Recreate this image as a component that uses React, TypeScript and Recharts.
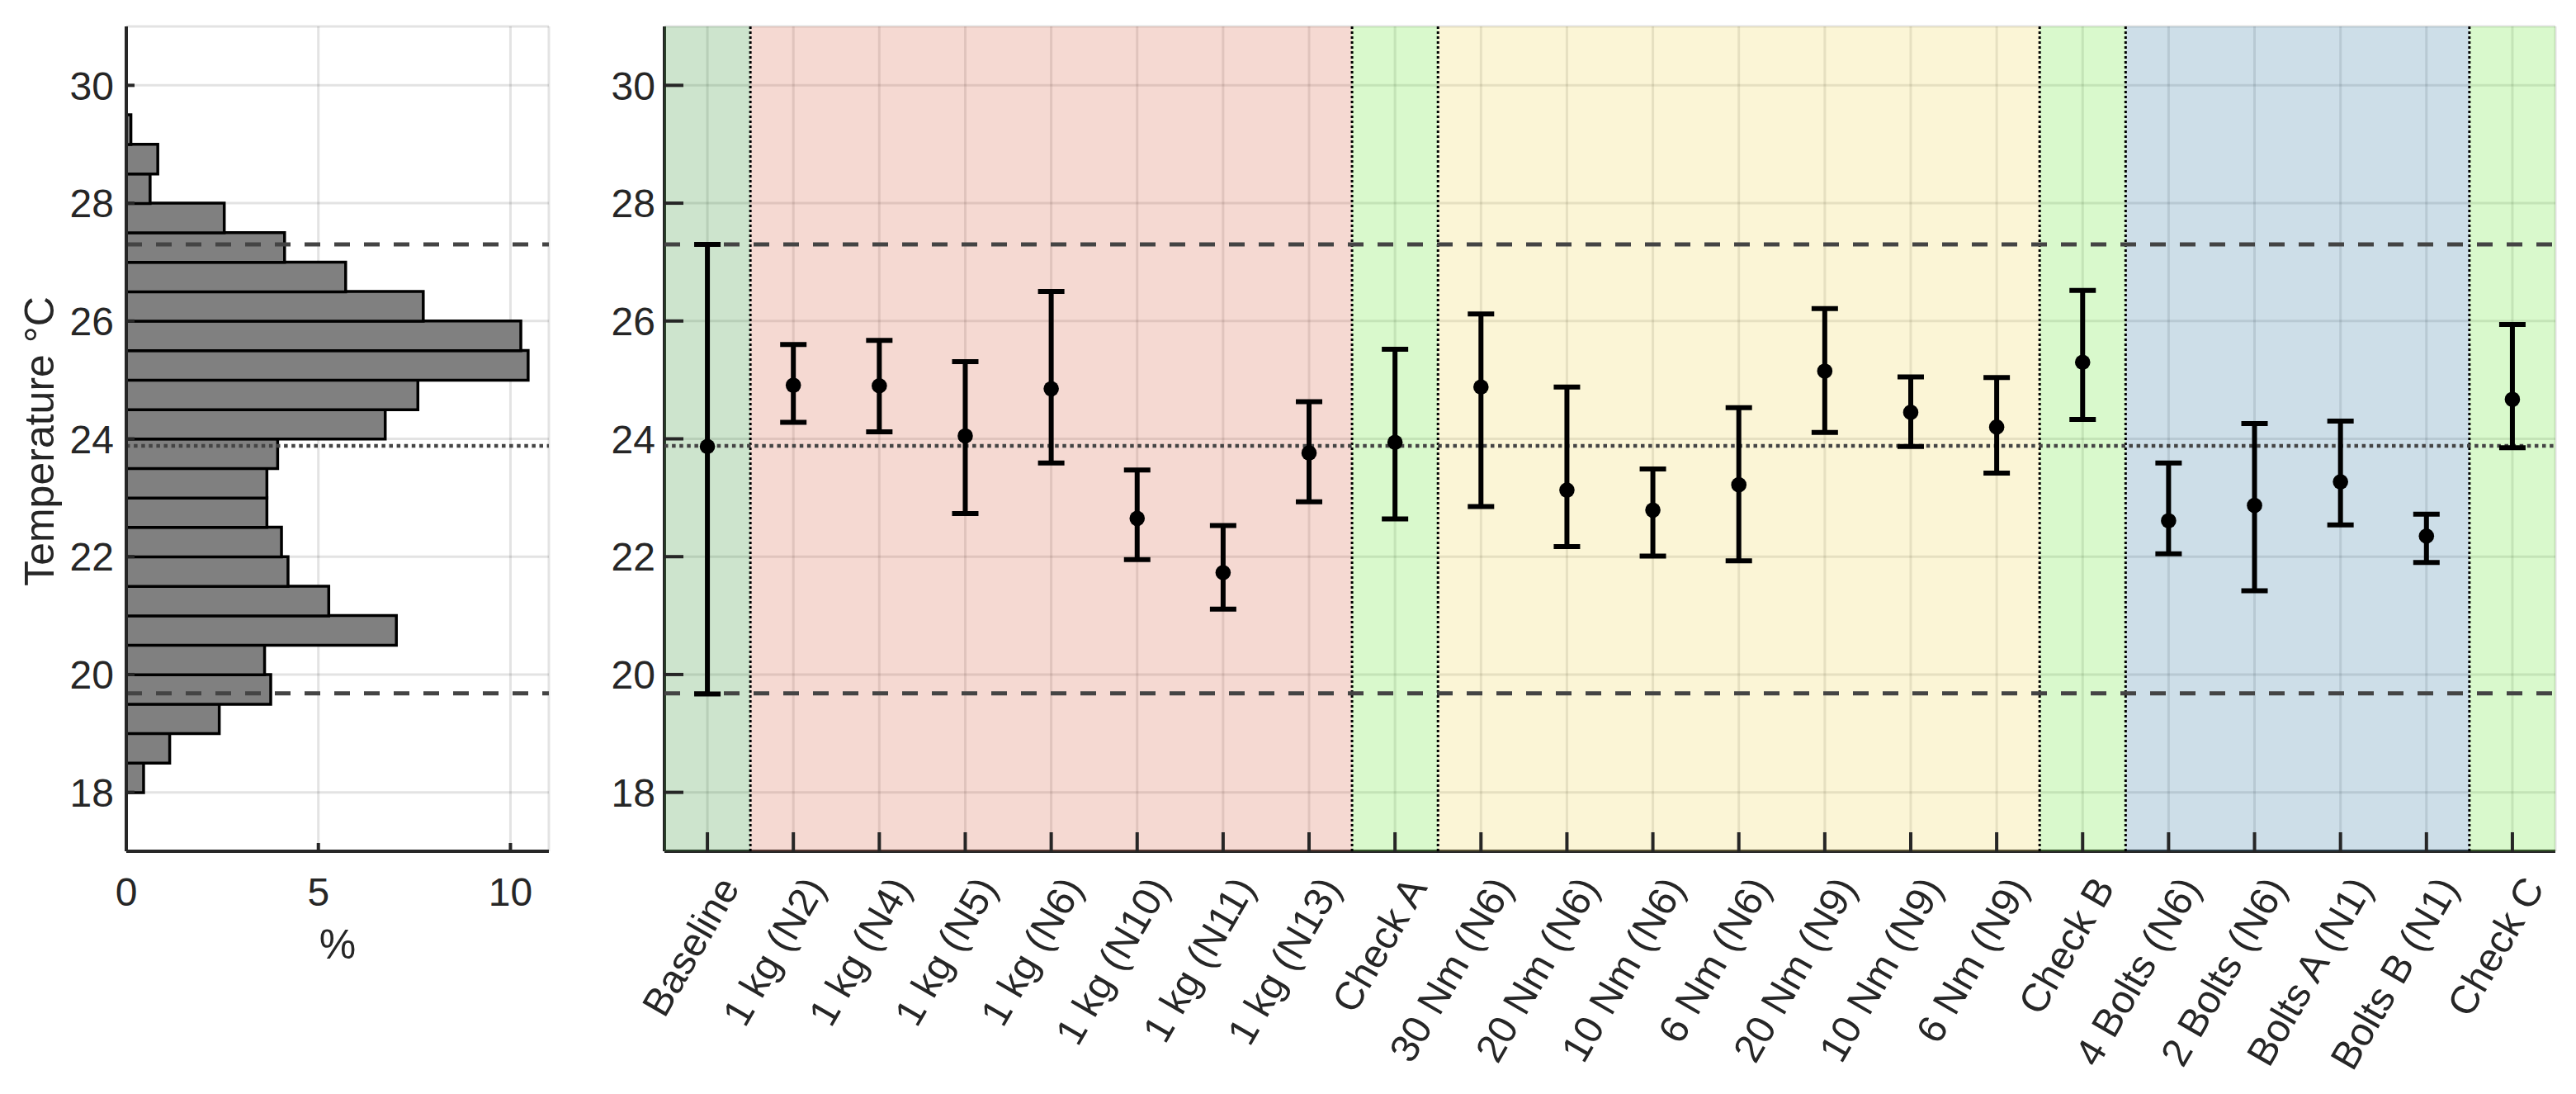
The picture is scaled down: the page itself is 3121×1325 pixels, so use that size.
import React from 'react';
import {
  ComposedChart,
  Bar,
  Scatter,
  ErrorBar,
  XAxis,
  YAxis,
  CartesianGrid,
  ReferenceArea,
  ReferenceLine,
} from 'recharts';

// ---------------- data ----------------
const categories = [
  'Baseline',
  '1 kg (N2)',
  '1 kg (N4)',
  '1 kg (N5)',
  '1 kg (N6)',
  '1 kg (N10)',
  '1 kg (N11)',
  '1 kg (N13)',
  'Check A',
  '30 Nm (N6)',
  '20 Nm (N6)',
  '10 Nm (N6)',
  '6 Nm (N6)',
  '20 Nm (N9)',
  '10 Nm (N9)',
  '6 Nm (N9)',
  'Check B',
  '4 Bolts (N6)',
  '2 Bolts (N6)',
  'Bolts A (N1)',
  'Bolts B (N1)',
  'Check C',
];
const means = [
  23.87, 24.91, 24.9, 24.05, 24.85, 22.65, 21.73, 23.76, 23.94, 24.88, 23.13,
  22.79, 23.22, 25.15, 24.45, 24.2, 25.3, 22.61, 22.87, 23.27, 22.35, 24.67,
];
const lows = [
  19.67, 24.28, 24.12, 22.73, 23.59, 21.95, 21.11, 22.93, 22.64, 22.85, 22.17,
  22.01, 21.93, 24.11, 23.87, 23.42, 24.33, 22.05, 21.42, 22.54, 21.9, 23.85,
];
const highs = [
  27.3, 25.6, 25.67, 25.31, 26.5, 23.47, 22.53, 24.63, 25.52, 26.12, 24.88,
  23.49, 24.53, 26.21, 25.05, 25.04, 26.52, 23.59, 24.26, 24.3, 22.72, 25.94,
];

// groups of conditions (edges in category-index units) and their kind
const regionEdges = [-0.5, 0.5, 7.5, 8.5, 15.5, 16.5, 20.5, 21.5];
const regionKinds = ['baseline', 'load', 'check', 'torque', 'check', 'bolts', 'check'];

// histogram of the baseline temperature (bin centres, °C / share, %)
const binCenters = [
  18.25, 18.75, 19.25, 19.75, 20.25, 20.75, 21.25, 21.75, 22.25, 22.75, 23.25,
  23.75, 24.25, 24.75, 25.25, 25.75, 26.25, 26.75, 27.25, 27.75, 28.25, 28.75,
  29.25,
];
const binPercents = [
  0.45, 1.13, 2.42, 3.76, 3.6, 7.03, 5.27, 4.21, 4.04, 3.66, 3.66, 3.94, 6.74,
  7.59, 10.46, 10.27, 7.73, 5.71, 4.12, 2.55, 0.62, 0.82, 0.12,
];

const meanLevel = [23.88];
const limitLevels = [19.68, 27.3];

const tempTicks = [18, 20, 22, 24, 26, 28, 30];
const tempDomain = [17, 31];
const pctTicks = [0, 5, 10];
const pctDomain = [0, 11];

// ---------------- styles ----------------
const FONT = '"Liberation Sans", Arial, Helvetica, sans-serif';
const AXIS = '#262626';
const TICK_FONT = 48;
const LABEL_FONT = 50;
const REGION_COLORS: Record<string, string> = {
  baseline: 'rgb(55,147,55)',
  load: 'rgb(215,103,75)',
  check: 'rgb(103,231,51)',
  torque: 'rgb(239,215,91)',
  bolts: 'rgb(55,123,163)',
};
const REGION_ALPHA = 0.25;
const GRID = 'rgba(38,38,38,0.13)';
const axisLine = { stroke: AXIS, strokeWidth: 4 };

// ---------------- derived tables ----------------
const rows = categories.map((name, i) => ({
  x: i,
  name,
  mean: means[i],
  err: [means[i] - lows[i], highs[i] - means[i]],
}));
const histRows = binCenters.map((c, i) => ({ center: c, pct: binPercents[i] }));
const catTicks = categories.map((_, i) => i);
const catDomain = [-0.5, categories.length - 0.5];
const regions = regionKinds.map((kind, i) => ({
  kind,
  x1: regionEdges[i],
  x2: regionEdges[i + 1],
}));
const innerEdges = regionEdges.slice(1, -1);

// ---------------- tick renderers ----------------
const makeBottomTick = (len: number, labelFn: (v: number) => string) => (p: any) => {
  const { x, y, payload } = p;
  return (
    <g>
      <line x1={x} y1={y} x2={x} y2={y - len} stroke={AXIS} strokeWidth={4} />
      <text
        x={x}
        y={y + 66}
        textAnchor="middle"
        fontSize={TICK_FONT}
        fontFamily={FONT}
        fill={AXIS}
      >
        {labelFn(payload.value)}
      </text>
    </g>
  );
};

const MainXTick = (p: any) => {
  const { x, y, payload } = p;
  const ax = x + 40;
  const ay = y + 44;
  return (
    <g>
      <line x1={x} y1={y} x2={x} y2={y - 23} stroke={AXIS} strokeWidth={4} />
      <text
        x={ax}
        y={ay}
        transform={`rotate(-60, ${ax}, ${ay})`}
        textAnchor="end"
        fontSize={TICK_FONT}
        fontFamily={FONT}
        fill={AXIS}
      >
        {categories[payload.value]}
      </text>
    </g>
  );
};

const makeTopTick = (len: number) => (p: any) => (
  <line x1={p.x} y1={p.y} x2={p.x} y2={p.y + len} stroke={AXIS} strokeWidth={4} />
);

const makeLeftTick = (len: number, gap: number) => (p: any) => {
  const { x, y, payload } = p;
  return (
    <g>
      <line x1={x} y1={y} x2={x + len} y2={y} stroke={AXIS} strokeWidth={4} />
      <text
        x={x - gap}
        y={y}
        dy="0.36em"
        textAnchor="end"
        fontSize={TICK_FONT}
        fontFamily={FONT}
        fill={AXIS}
      >
        {payload.value}
      </text>
    </g>
  );
};

const makeRightTick = (len: number) => (p: any) => (
  <line x1={p.x} y1={p.y} x2={p.x - len} y2={p.y} stroke={AXIS} strokeWidth={4} />
);

const Dot = (p: any) => <circle cx={p.cx} cy={p.cy} r={9.3} fill="#000" />;

// ---------------- component ----------------
export default function App() {
  return (
    <div
      style={{
        position: 'absolute',
        left: 0,
        top: 0,
        width: 3121,
        height: 1325,
        background: '#fff',
        overflow: 'hidden',
      }}
    >
      {/* Histogram panel */}
      <div style={{ position: 'absolute', left: 0, top: 0 }}>
        <ComposedChart
          width={700}
          height={1325}
          layout="vertical"
          data={histRows}
          margin={{ top: 32, right: 35, bottom: 0, left: 0 }}
          barCategoryGap={0}
          barGap={0}
        >
          <CartesianGrid stroke={GRID} strokeWidth={3} />
          <XAxis
            type="number"
            domain={pctDomain}
            ticks={pctTicks}
            interval={0}
            height={294}
            tickSize={0}
            tickMargin={0}
            axisLine={axisLine}
            tickLine={false}
            tick={makeBottomTick(10, (v) => String(v))}
            allowDataOverflow
            label={{
              content: (lp: any) => {
                const vb = lp.viewBox;
                return (
                  <text
                    x={vb.x + vb.width / 2}
                    y={vb.y + 130}
                    textAnchor="middle"
                    fontSize={LABEL_FONT}
                    fontFamily={FONT}
                    fill={AXIS}
                  >
                    %
                  </text>
                );
              },
            }}
          />
          <XAxis
            xAxisId="top"
            orientation="top"
            type="number"
            domain={pctDomain}
            ticks={pctTicks}
            interval={0}
            height={0}
            tickSize={0}
            tickMargin={0}
            axisLine={axisLine}
            tickLine={false}
            tick={makeTopTick(10)}
            allowDataOverflow
          />
          <YAxis
            type="number"
            dataKey="center"
            domain={tempDomain}
            ticks={tempTicks}
            interval={0}
            reversed
            width={153}
            tickSize={0}
            tickMargin={0}
            axisLine={axisLine}
            tickLine={false}
            tick={makeLeftTick(10, 15)}
            allowDataOverflow
            label={{
              content: (lp: any) => {
                const vb = lp.viewBox;
                const cx = vb.x + 65;
                const cy = vb.y + vb.height / 2 + 3;
                return (
                  <text
                    x={cx}
                    y={cy}
                    transform={`rotate(-90, ${cx}, ${cy})`}
                    textAnchor="middle"
                    fontSize={LABEL_FONT}
                    fontFamily={FONT}
                    fill={AXIS}
                  >
                    Temperature °C
                  </text>
                );
              },
            }}
          />
          <YAxis
            yAxisId="right"
            orientation="right"
            type="number"
            domain={tempDomain}
            ticks={tempTicks}
            interval={0}
            reversed
            width={0}
            tickSize={0}
            tickMargin={0}
            axisLine={axisLine}
            tickLine={false}
            tick={makeRightTick(10)}
            allowDataOverflow
          />
          <Bar
            dataKey="pct"
            fill="#808080"
            stroke="#000"
            strokeWidth={3.5}
            isAnimationActive={false}
          />
          {limitLevels.map((v) => (
            <ReferenceLine
              key={`hl${v}`}
              y={v}
              stroke="#444"
              strokeWidth={5}
              strokeDasharray="19 17"
            />
          ))}
          {meanLevel.map((v) => (
            <ReferenceLine
              key={`hm${v}`}
              y={v}
              stroke="#444"
              strokeWidth={4.5}
              strokeDasharray="4.5 4.6"
            />
          ))}
        </ComposedChart>
      </div>

      {/* Conditions panel */}
      <div style={{ position: 'absolute', left: 700, top: 0 }}>
        <ComposedChart
          width={2421}
          height={1325}
          margin={{ top: 32, right: 25, bottom: 0, left: 0 }}
        >
          <CartesianGrid stroke={GRID} strokeWidth={3} />
          <XAxis
            type="number"
            dataKey="x"
            domain={catDomain}
            ticks={catTicks}
            interval={0}
            height={294}
            tickSize={0}
            tickMargin={0}
            axisLine={axisLine}
            tickLine={false}
            tick={MainXTick}
            allowDataOverflow
          />
          <XAxis
            xAxisId="top"
            orientation="top"
            type="number"
            domain={catDomain}
            ticks={catTicks}
            interval={0}
            height={0}
            tickSize={0}
            tickMargin={0}
            axisLine={axisLine}
            tickLine={false}
            tick={makeTopTick(23)}
            allowDataOverflow
          />
          <YAxis
            type="number"
            domain={tempDomain}
            ticks={tempTicks}
            interval={0}
            width={105}
            tickSize={0}
            tickMargin={0}
            axisLine={axisLine}
            tickLine={false}
            tick={makeLeftTick(23, 11)}
            allowDataOverflow
          />
          <YAxis
            yAxisId="right"
            orientation="right"
            type="number"
            domain={tempDomain}
            ticks={tempTicks}
            interval={0}
            width={0}
            tickSize={0}
            tickMargin={0}
            axisLine={axisLine}
            tickLine={false}
            tick={makeRightTick(23)}
            allowDataOverflow
          />
          {regions.map((r) => (
            <ReferenceArea
              key={`r${r.x1}`}
              x1={r.x1}
              x2={r.x2}
              fill={REGION_COLORS[r.kind]}
              fillOpacity={REGION_ALPHA}
              stroke="none"
              zIndex={550}
            />
          ))}
          {innerEdges.map((e) => (
            <ReferenceLine
              key={`e${e}`}
              x={e}
              stroke="#000"
              strokeWidth={3}
              strokeDasharray="3 3"
              zIndex={560}
            />
          ))}
          {limitLevels.map((v) => (
            <ReferenceLine
              key={`l${v}`}
              y={v}
              stroke="#444"
              strokeWidth={5}
              strokeDasharray="19 17"
              zIndex={560}
            />
          ))}
          {meanLevel.map((v) => (
            <ReferenceLine
              key={`m${v}`}
              y={v}
              stroke="#444"
              strokeWidth={4.5}
              strokeDasharray="4.5 4.6"
              zIndex={560}
            />
          ))}
          <Scatter
            data={rows}
            dataKey="mean"
            shape={Dot}
            isAnimationActive={false}
            zIndex={700}
          >
            <ErrorBar
              dataKey="err"
              direction="y"
              width={16}
              stroke="#000"
              strokeWidth={6}
              isAnimationActive={false}
              zIndex={700}
            />
          </Scatter>
        </ComposedChart>
      </div>
    </div>
  );
}
